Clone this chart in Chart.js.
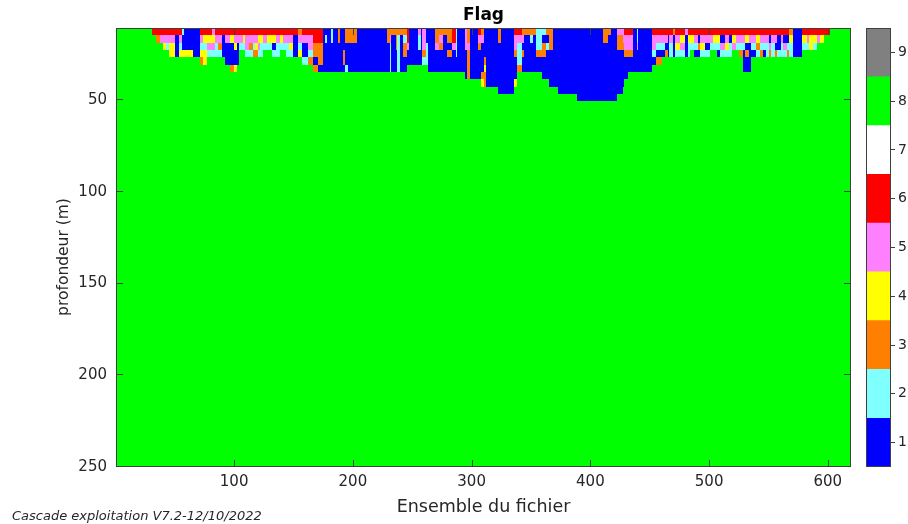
<!DOCTYPE html>
<html>
<head>
<meta charset="utf-8">
<script src="https://cdn.jsdelivr.net/npm/chart.js@4.4.0/dist/chart.umd.min.js"></script>
<style>
  html, body { margin: 0; padding: 0; background: #ffffff; }
  #wrap { position: relative; width: 908px; height: 524px; overflow: hidden; }
  #main { position: absolute; left: 0; top: 0; }
  #bar { position: absolute; left: 860px; top: 0; }
</style>
</head>
<body>
<div id="wrap">
  <canvas id="main" width="908" height="524"></canvas>
  <canvas id="bar" width="48" height="524"></canvas>
</div>
<script>
// Ensemble / depth grid
const ensembleCount = 619;
const firstBinTop = 10.75;   // m, upper edge of the shallowest bin
const binSize = 4;           // m
const binCount = 60;
const depthMax = 250;

const xTicks = [100, 200, 300, 400, 500, 600];
const yTicks = [50, 100, 150, 200, 250];

// Quality flag legend
const flagLevels = [1, 2, 3, 4, 5, 6, 7, 8, 9];
const flagColors = ['#0000ff', '#80ffff', '#ff8000', '#ffff00', '#ff80ff',
                    '#ff0000', '#ffffff', '#00ff00', '#808080'];

// Runs of ensembles sharing the same flag profile.
// runFlags[i]: flag codes from the shallowest bin downward; deeper bins are flag 8.
const runStart = [
  1, 31, 35, 38, 41, 43, 46, 51, 54, 57, 58, 66, 72, 74, 78, 82, 84, 87, 90, 93,
  97, 100, 103, 105, 108, 110, 113, 116, 118, 121, 122, 125, 128, 132, 136, 139, 142, 144, 147, 150,
  154, 158, 163, 167, 171, 175, 177, 179, 182, 184, 188, 190, 192, 194, 196, 204, 229, 232, 233, 237,
  238, 240, 243, 246, 248, 255, 258, 259, 262, 264, 270, 273, 276, 280, 284, 287, 288, 295, 297, 299,
  306, 308, 311, 313, 323, 325, 336, 339, 343, 345, 350, 352, 355, 360, 363, 366, 369, 373, 389, 411,
  415, 418, 423, 428, 429, 432, 436, 440, 441, 452, 456, 461, 463, 466, 467, 470, 472, 476, 480, 483,
  484, 488, 491, 493, 497, 501, 504, 507, 510, 514, 517, 520, 523, 526, 529, 531, 534, 536, 540, 543,
  546, 548, 551, 553, 556, 558, 561, 563, 566, 568, 571, 579, 583, 585, 588, 591, 594, 597, 602
];
const runFlags = [
  '', '6', '63', '65', '654', '652', '6544', '6111', '6524', '2114', '1114', '1111', '65243', '64244', '6452', '5452', '6522', '6532', '6111', '65111',
  '641113', '654114', '65111', '652', '642', '6552', '6532', '6523', '6543', '6452', '6422', '652', '642', '6412', '6522', '642', '652', '6522', '6542', '6111',
  '3524', '65112', '65523', '663313', '663331', '111111', '121111', '111111', '221111', '111111', '331111', '111111', '111331', '331112', '331111', '111111', '331111', '352222', '311111', '333111',
  '322222', '311111', '323311', '66511', '11111', '52211', '11111', '55532', '11222', '111111', '335111', '353111', '311111', '331311', '665111', '222211', '111111', '5551111', '3353333', '1111111',
  '6531111', '35111134', '11113433', '11111111', '331111111', '111111111', '65531114', '652223', '351311', '311111', '321111', '311111', '222311', '2133111', '3121111', '33311111', '11111111', '111111111', '1111111111', '3311111111',
  '3111111111', '1111111111', '533111111', '55311111', '6553111', '655311', '111111', '225111', '111111', '65521', '65213', '6521', '6513', '6111', '6522', '3111', '6542', '6452', '5111', '6422',
  '642', '6521', '6131', '6542', '6512', '652', '642', '6421', '6152', '6542', '6122', '645', '652', '6523', '652111', '641311', '651111', '6521', '6432', '6523',
  '6521', '6522', '6153', '6522', '6513', '6112', '6522', '6152', '6123', '3422', '1111', '642', '652', '644', '642', '65', '64', '6', ''
];

const textColor = '#262626';
const frameColor = '#404040';
const fontFamily = "'DejaVu Sans', 'Liberation Sans', sans-serif";

function colorOf(flag) { return flagColors[flagLevels.indexOf(flag)]; }

// Flag grid drawn cell by cell through the chart scales
const heatmap = {
  id: 'heatmap',
  beforeDatasetsDraw(chart) {
    const { ctx, chartArea: a, scales: { x, y } } = chart;
    ctx.save();
    ctx.beginPath();
    ctx.rect(a.left, a.top, a.width, a.height);
    ctx.clip();
    const depthBottom = firstBinTop + binSize * binCount;
    for (let i = 0; i < runStart.length; i++) {
      const e0 = runStart[i];
      const e1 = i + 1 < runStart.length ? runStart[i + 1] - 1 : ensembleCount;
      const xl = Math.round(x.getPixelForValue(e0 - 0.5));
      const xr = Math.round(x.getPixelForValue(e1 + 0.5));
      const codes = runFlags[i];
      for (let k = 0; k < codes.length; k++) {
        const yt = Math.round(y.getPixelForValue(firstBinTop + k * binSize));
        const yb = Math.round(y.getPixelForValue(firstBinTop + (k + 1) * binSize));
        ctx.fillStyle = colorOf(Number(codes[k]));
        ctx.fillRect(xl, yt, xr - xl, yb - yt);
      }
      const gt = Math.round(y.getPixelForValue(firstBinTop + codes.length * binSize));
      const gb = Math.round(y.getPixelForValue(depthBottom));
      ctx.fillStyle = colorOf(8);
      ctx.fillRect(xl, gt, xr - xl, gb - gt);
    }
    ctx.restore();
  }
};

// Axes box with inward tick marks on all four sides
const frame = {
  id: 'frame',
  afterDatasetsDraw(chart) {
    const { ctx, chartArea: a, scales: { x, y } } = chart;
    const len = 7;
    ctx.save();
    ctx.strokeStyle = frameColor;
    ctx.lineWidth = 1;
    ctx.beginPath();
    xTicks.forEach(v => {
      const px = Math.round(x.getPixelForValue(v)) + 0.5;
      ctx.moveTo(px, a.bottom); ctx.lineTo(px, a.bottom - len);
      ctx.moveTo(px, a.top); ctx.lineTo(px, a.top + len);
    });
    yTicks.forEach(v => {
      const py = Math.round(y.getPixelForValue(v)) - 0.5;
      ctx.moveTo(a.left, py); ctx.lineTo(a.left + len, py);
      ctx.moveTo(a.right, py); ctx.lineTo(a.right - len, py);
    });
    ctx.stroke();
    ctx.strokeRect(a.left + 0.5, a.top + 0.5, a.width - 1, a.height - 1);
    ctx.restore();
  }
};

// Title, axis titles and footer
const texts = {
  id: 'texts',
  afterDraw(chart) {
    const { ctx, chartArea: a } = chart;
    const cx = (a.left + a.right) / 2;
    ctx.save();
    ctx.fillStyle = '#000000';
    ctx.textAlign = 'center';
    ctx.textBaseline = 'middle';
    ctx.font = `bold 17px ${fontFamily}`;
    ctx.fillText('Flag', cx, 16);
    ctx.fillStyle = textColor;
    ctx.font = `17.5px ${fontFamily}`;
    ctx.fillText('Ensemble du fichier', cx, 507);
    ctx.save();
    ctx.translate(64, 257);
    ctx.rotate(-Math.PI / 2);
    ctx.font = `15.5px ${fontFamily}`;
    ctx.fillText('profondeur (m)', 0, 0);
    ctx.restore();
    ctx.textAlign = 'left';
    ctx.font = `italic 13px ${fontFamily}`;
    ctx.fillText('Cascade exploitation V7.2-12/10/2022', 12, 517);
    ctx.restore();
  }
};

new Chart(document.getElementById('main'), {
  type: 'scatter',
  data: { datasets: [] },
  options: {
    responsive: false,
    animation: false,
    devicePixelRatio: 1,
    layout: { padding: { top: 28, right: 57, left: 0, bottom: 0 } },
    plugins: { legend: { display: false }, tooltip: { enabled: false }, title: { display: false } },
    scales: {
      x: {
        type: 'linear', min: 0.5, max: ensembleCount + 0.5,
        afterBuildTicks: s => { s.ticks = xTicks.map(v => ({ value: v })); },
        grid: { display: false, drawTicks: false }, border: { display: false },
        ticks: { padding: 6, color: textColor, font: { family: fontFamily, size: 15 } },
        afterFit: s => { s.height = 57; }
      },
      y: {
        type: 'linear', reverse: true, min: firstBinTop, max: depthMax,
        afterBuildTicks: s => { s.ticks = yTicks.map(v => ({ value: v })); },
        grid: { display: false, drawTicks: false }, border: { display: false },
        ticks: { padding: 9, color: textColor, font: { family: fontFamily, size: 15 } },
        afterFit: s => { s.width = 116; }
      }
    }
  },
  plugins: [heatmap, frame, texts]
});

// Colour bar of the flag values
const barFrame = {
  id: 'barFrame',
  afterDatasetsDraw(chart) {
    const { ctx, chartArea: a } = chart;
    ctx.save();
    ctx.strokeStyle = frameColor;
    ctx.lineWidth = 1;
    ctx.strokeRect(a.left + 0.5, a.top + 0.5, a.width - 1, a.height - 1);
    ctx.restore();
  }
};

new Chart(document.getElementById('bar'), {
  type: 'bar',
  data: {
    labels: ['flag'],
    datasets: flagLevels.map((v, i) => ({
      data: [[v - 0.5, v + 0.5]],
      backgroundColor: flagColors[i],
      borderWidth: 0,
      barPercentage: 1,
      categoryPercentage: 1,
      grouped: false
    }))
  },
  options: {
    responsive: false,
    animation: false,
    devicePixelRatio: 1,
    layout: { padding: { top: 28, bottom: 57, left: 6, right: 0 } },
    plugins: { legend: { display: false }, tooltip: { enabled: false } },
    scales: {
      x: { display: false },
      y: {
        position: 'right', min: 0.5, max: 9.5,
        afterBuildTicks: s => { s.ticks = flagLevels.map(v => ({ value: v })); },
        grid: { drawOnChartArea: false, drawTicks: true, tickLength: 4, color: frameColor },
        border: { display: false },
        ticks: { padding: 3, color: textColor, font: { family: fontFamily, size: 14 } },
        afterFit: s => { s.width = 17; }
      }
    }
  },
  plugins: [barFrame]
});
</script>
</body>
</html>
